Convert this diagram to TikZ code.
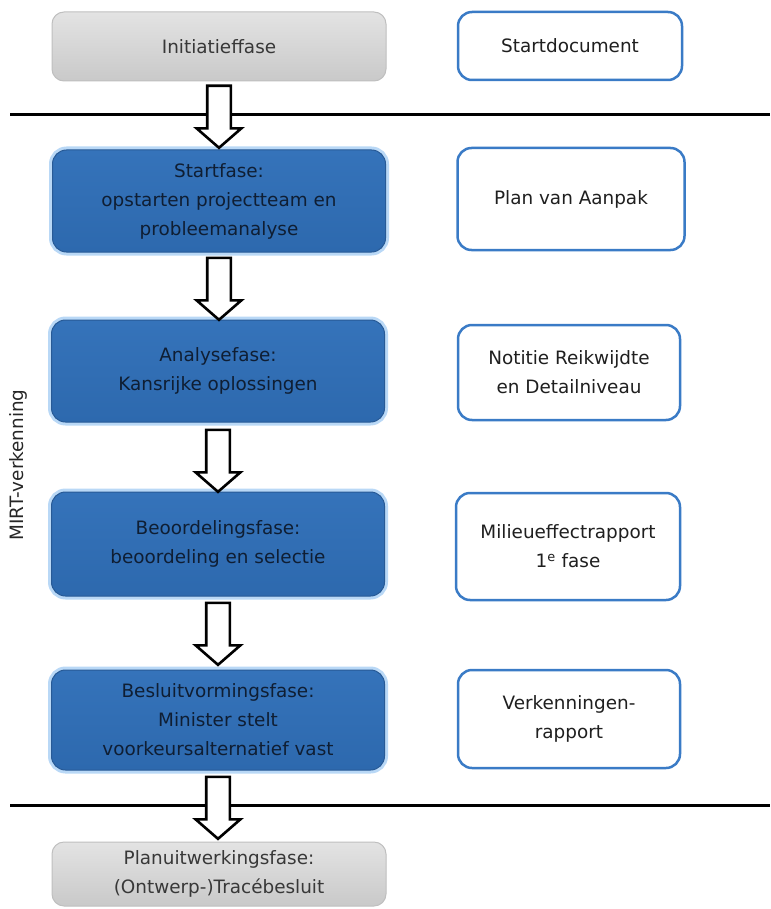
\documentclass[tikz,border=0pt]{standalone}
\usepackage{fontspec}
\setmainfont{DejaVu Sans}
\usepackage{xcolor}
\usetikzlibrary{shapes.arrows,calc}
\definecolor{mirtBlue}{HTML}{2D69AE}
\definecolor{mirtBlueTop}{HTML}{3573BA}
\definecolor{mirtBlueEdge}{HTML}{285A96}
\definecolor{mirtGlow}{HTML}{B9D8F6}
\definecolor{mirtNavy}{HTML}{0F1E33}
\definecolor{sideBlue}{HTML}{3A7BC6}
\definecolor{phaseGray}{HTML}{C9C9C9}
\definecolor{phaseGrayTop}{HTML}{E3E3E3}

\begin{document}
\begin{tikzpicture}[x=1pt, y=-1pt, font=\fontsize{18.4}{29}\selectfont,
  bluephase/.style={rounded corners=14pt, draw=mirtBlueEdge, line width=1pt,
    top color=mirtBlueTop, bottom color=mirtBlue, text=mirtNavy, align=center,
    minimum width=333pt, inner sep=0pt,
    preaction={draw=mirtGlow, line width=7pt}},
  grayphase/.style={rounded corners=12pt, draw=gray!50, line width=1pt,
    top color=phaseGrayTop, bottom color=phaseGray, text=black!78, align=center,
    minimum width=334pt, inner sep=0pt},
  product/.style={rounded corners=14pt, draw=sideBlue, line width=2.5pt,
    fill=white, text=black!88, align=center, inner sep=0pt},
  blockarrow/.style={single arrow, draw=black, fill=white, line width=2.6pt,
    minimum height=62pt, inner xsep=0pt, inner ysep=10.5pt,
    single arrow head extend=10.5pt, single arrow tip angle=98,
    single arrow head indent=0pt, rotate=-90, anchor=tail}]
\useasboundingbox (0,0) rectangle (770,909);
% phases (left column)
\node[grayphase, minimum height=69pt] (init) at (219,46.5) {Initiatieffase};
\node[bluephase, minimum height=102pt] (start) at (219,201)
  {Startfase:\\opstarten projectteam en\\probleemanalyse};
\node[bluephase, minimum height=102pt] (analyse) at (218,371)
  {Analysefase:\\Kansrijke oplossingen};
\node[bluephase, minimum height=104pt] (beoord) at (218,544)
  {Beoordelingsfase:\\beoordeling en selectie};
\node[bluephase, minimum height=100pt] (besluit) at (218,720)
  {Besluitvormingsfase:\\Minister stelt\\voorkeursalternatief vast};
\node[grayphase, minimum height=64pt] (planuit) at (219,874)
  {Planuitwerkingsfase:\\(Ontwerp-)Tracébesluit};
% products (right column)
\node[product, minimum width=224pt, minimum height=68pt] (startdoc) at (570,46) {Startdocument};
\node[product, minimum width=227pt, minimum height=102pt] (pva) at (571,199) {Plan van Aanpak};
\node[product, minimum width=222pt, minimum height=95pt] (nrd) at (569,372.5)
  {Notitie Reikwijdte\\en Detailniveau};
\node[product, minimum width=224pt, minimum height=107pt] (mer) at (568,546.5)
  {Milieueffectrapport\\1\textsuperscript{e} fase};
\node[product, minimum width=222pt, minimum height=98pt] (verk) at (569,719)
  {Verkenningen-\\rapport};
% boundaries of the verkenning
\draw[line width=3pt] (10,115) -- (770,115);
\draw[line width=3pt] (10,805) -- (770,805);
\node[rotate=90, text=black!85] (mirt) at (18,465) {MIRT-verkenning};
% block arrows between phases
\node[blockarrow] (a1) at ($(init.south)+(0,3)$) {};
\node[blockarrow] (a2) at ($(start.south)+(0,4)$) {};
\node[blockarrow] (a3) at ($(analyse.south)+(0,6)$) {};
\node[blockarrow] (a4) at ($(beoord.south)+(0,5)$) {};
\node[blockarrow] (a5) at ($(besluit.south)+(0,5)$) {};
\end{tikzpicture}
\end{document}
